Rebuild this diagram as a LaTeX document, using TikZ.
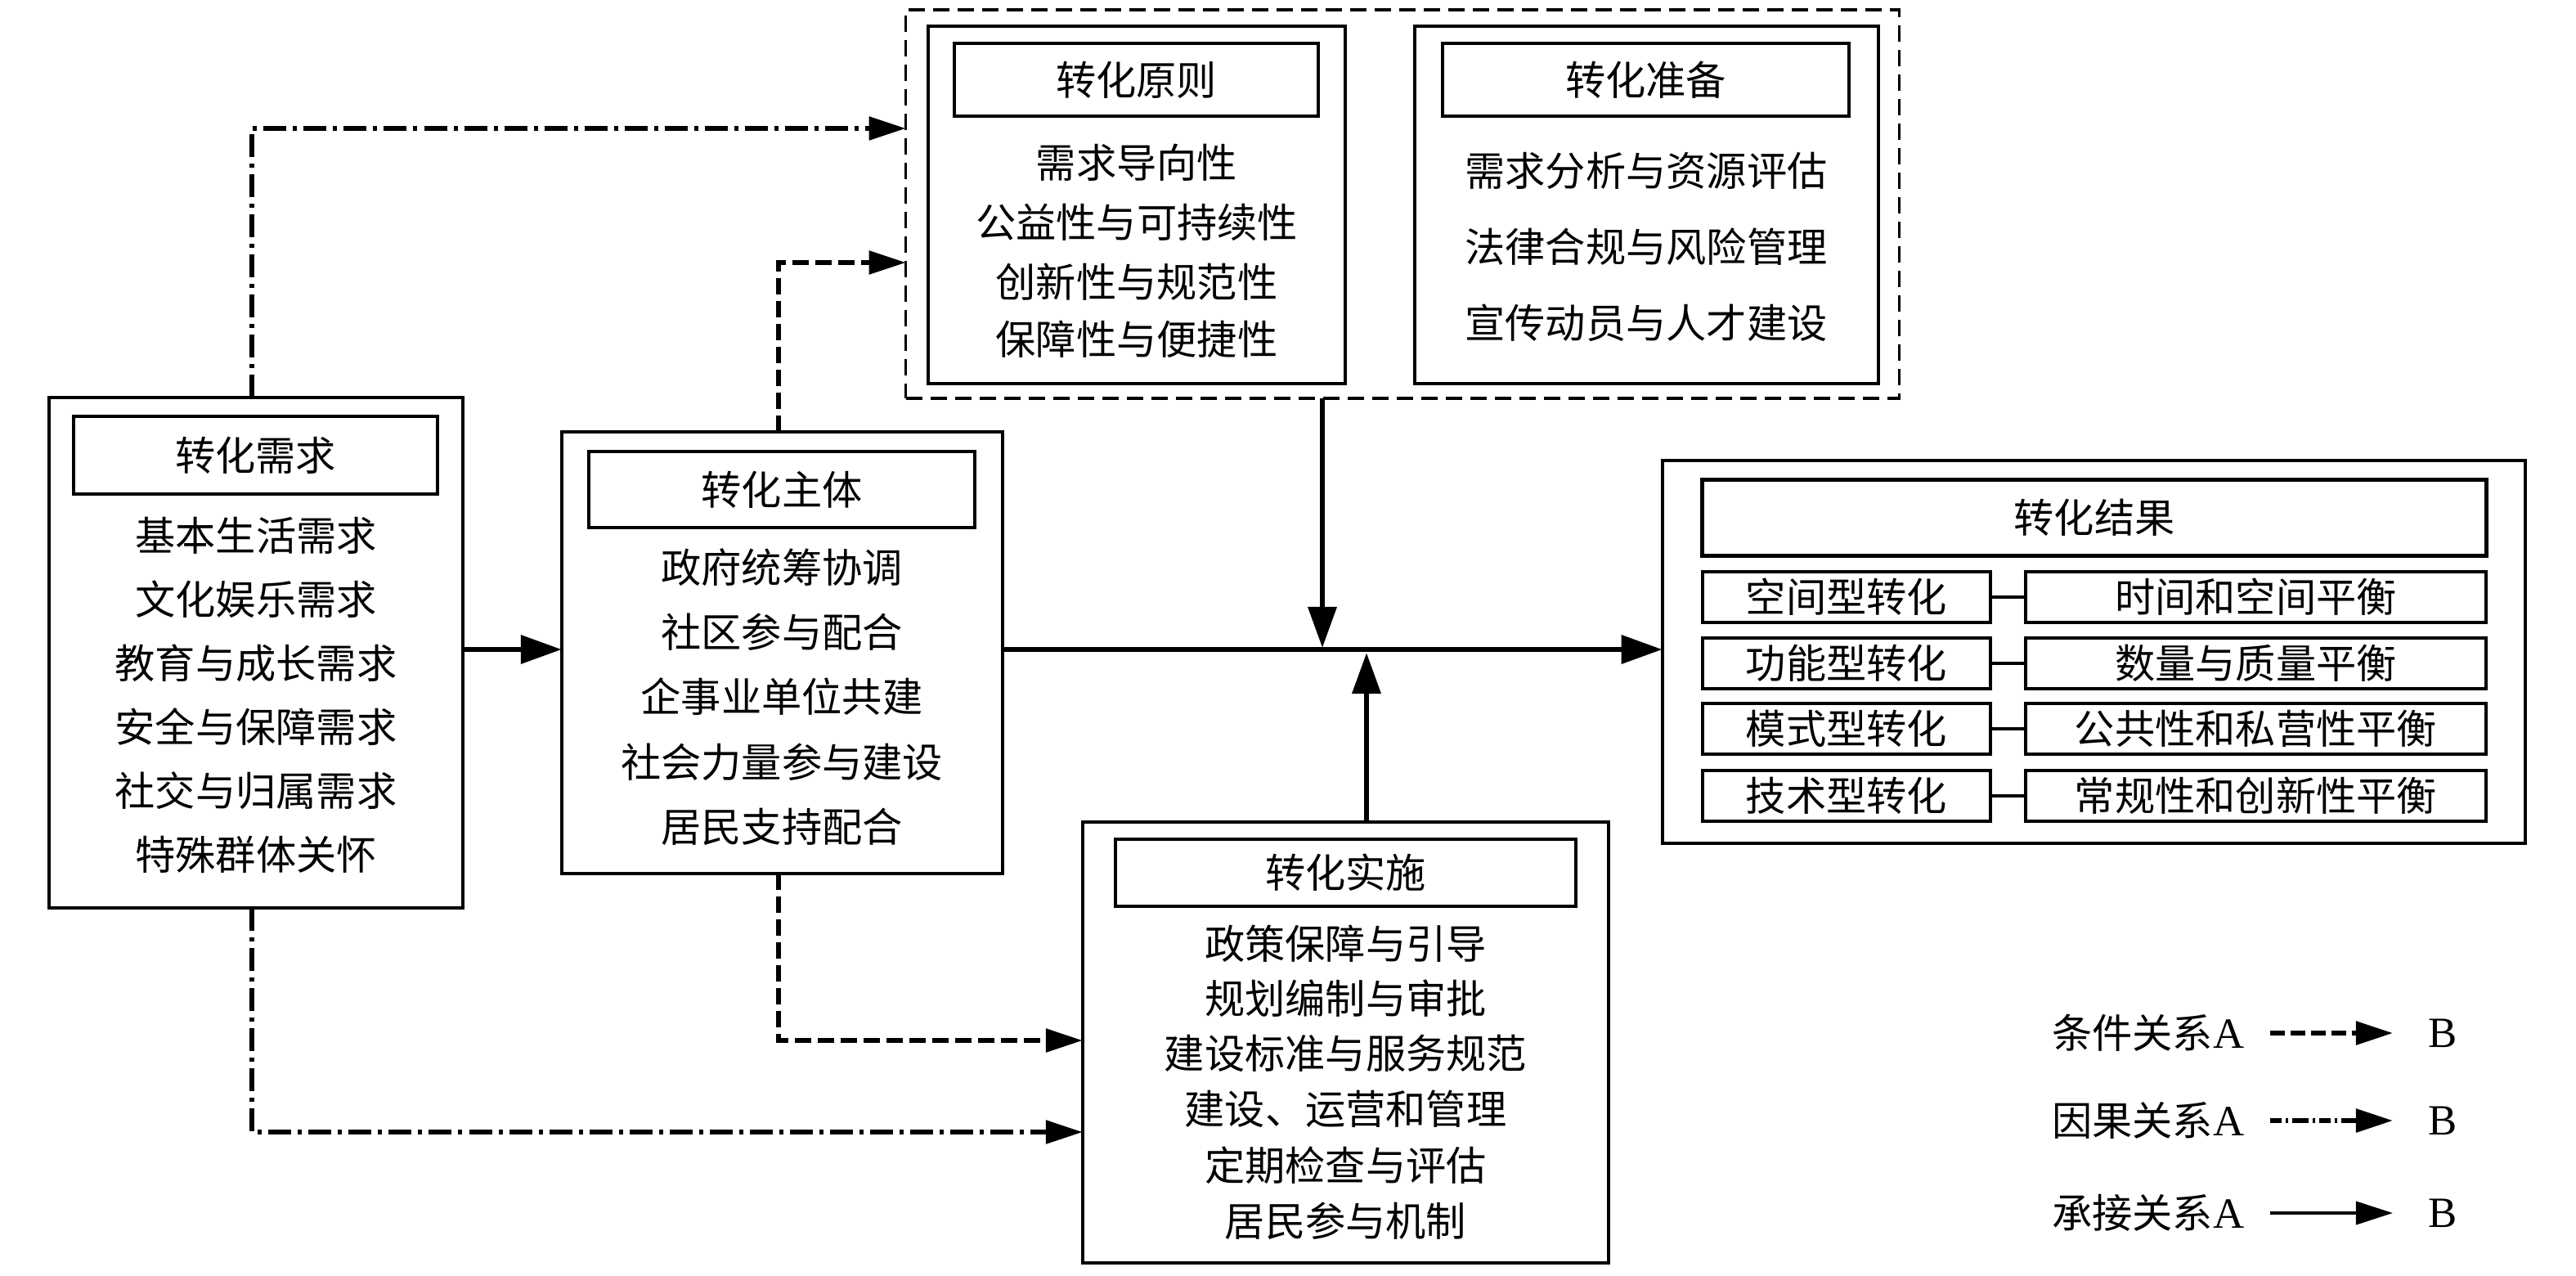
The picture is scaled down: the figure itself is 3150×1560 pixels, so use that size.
\documentclass[tikz,border=0pt]{standalone}
\usepackage{fontspec}
\setmainfont{Liberation Serif}
\newfontfamily\cjk{Noto Sans CJK SC}
\usetikzlibrary{arrows.meta}
\begin{document}
\begin{tikzpicture}[x=0.01cm,y=-0.01cm,
  box/.style={draw, line width=1.1pt, inner sep=0pt, outer sep=0pt},
  ttl/.style={draw, line width=1.3pt, inner sep=0pt, outer sep=0pt, font=\cjk\fontsize{14pt}{16pt}\selectfont},
  txt/.style={inner sep=0pt, font=\cjk\fontsize{14pt}{16pt}\selectfont},
  grpbox/.style={draw, line width=1pt, dash pattern=on 0.2cm off 0.1cm, inner sep=0pt, outer sep=0pt},
  seq/.style={line width=1.9pt, -{Triangle[length=0.5cm,width=0.34cm]}},
  cond/.style={line width=1.6pt, dash pattern=on 0.2cm off 0.08cm, -{Triangle[length=0.45cm,width=0.28cm]}},
  cause/.style={line width=1.6pt, dash pattern=on 0.28cm off 0.08cm on 0.05cm off 0.08cm, -{Triangle[length=0.45cm,width=0.28cm]}},
  lgseq/.style={line width=1.1pt, -{Triangle[length=0.45cm,width=0.28cm]}},
]
\useasboundingbox (0,0) rectangle (3150,1560);

% ---------- 转化需求 ----------
\node[box, minimum width=5.06cm, minimum height=6.24cm] (xq) at (313,798) {};
\node[ttl, minimum width=4.45cm, minimum height=0.95cm] (xqt) at (312.5,556.5) {转化需求};
\node[txt] (xq1) at (313,655) {基本生活需求};
\node[txt] (xq2) at (313,733) {文化娱乐需求};
\node[txt] (xq3) at (313,811) {教育与成长需求};
\node[txt] (xq4) at (313,889) {安全与保障需求};
\node[txt] (xq5) at (313,967) {社交与归属需求};
\node[txt] (xq6) at (313,1045) {特殊群体关怀};

% ---------- 转化主体 ----------
\node[box, minimum width=5.39cm, minimum height=5.40cm] (zt) at (956.5,798) {};
\node[ttl, minimum width=4.72cm, minimum height=0.93cm] (ztt) at (956,598.5) {转化主体};
\node[txt] (zt1) at (956,694) {政府统筹协调};
\node[txt] (zt2) at (956,773) {社区参与配合};
\node[txt] (zt3) at (956,852) {企事业单位共建};
\node[txt] (zt4) at (956,932) {社会力量参与建设};
\node[txt] (zt5) at (956,1011) {居民支持配合};

% ---------- 原则 + 准备 group ----------
\node[grpbox, minimum width=12.14cm, minimum height=4.75cm] (grp) at (1715,249.5) {};
\node[box, minimum width=5.10cm, minimum height=4.37cm] (yz) at (1390,250.5) {};
\node[ttl, minimum width=4.45cm, minimum height=0.89cm] (yzt) at (1389.5,97.5) {转化原则};
\node[txt] (yz1) at (1390,199) {需求导向性};
\node[txt] (yz2) at (1390,272) {公益性与可持续性};
\node[txt] (yz3) at (1390,345) {创新性与规范性};
\node[txt] (yz4) at (1390,415) {保障性与便捷性};

\node[box, minimum width=5.67cm, minimum height=4.37cm] (zb) at (2013.5,250.5) {};
\node[ttl, minimum width=4.97cm, minimum height=0.89cm] (zbt) at (2012.5,97.5) {转化准备};
\node[txt] (zb1) at (2013,209) {需求分析与资源评估};
\node[txt] (zb2) at (2013,302) {法律合规与风险管理};
\node[txt] (zb3) at (2013,395) {宣传动员与人才建设};

% ---------- 转化实施 ----------
\node[box, minimum width=6.43cm, minimum height=5.39cm] (ss) at (1645.5,1274.5) {};
\node[ttl, minimum width=5.63cm, minimum height=0.82cm] (sst) at (1645.5,1067) {转化实施};
\node[txt] (ss1) at (1645.5,1154) {政策保障与引导};
\node[txt] (ss2) at (1645.5,1221) {规划编制与审批};
\node[txt] (ss3) at (1645.5,1288) {建设标准与服务规范};
\node[txt] (ss4) at (1645.5,1356) {建设、运营和管理};
\node[txt] (ss5) at (1645.5,1425) {定期检查与评估};
\node[txt] (ss6) at (1645.5,1493) {居民参与机制};

% ---------- 转化结果 ----------
\node[box, minimum width=10.55cm, minimum height=4.68cm] (jg) at (2560.5,797) {};
\node[ttl, minimum width=9.58cm, minimum height=0.93cm] (jgt) at (2561,633) {转化结果};
\node[ttl, minimum width=3.52cm, minimum height=0.62cm] (r1l) at (2258,730) {空间型转化};
\node[ttl, minimum width=5.63cm, minimum height=0.62cm] (r1r) at (2758.5,730) {时间和空间平衡};
\node[ttl, minimum width=3.52cm, minimum height=0.62cm] (r2l) at (2258,811) {功能型转化};
\node[ttl, minimum width=5.63cm, minimum height=0.62cm] (r2r) at (2758.5,811) {数量与质量平衡};
\node[ttl, minimum width=3.52cm, minimum height=0.62cm] (r3l) at (2258,891) {模式型转化};
\node[ttl, minimum width=5.63cm, minimum height=0.62cm] (r3r) at (2758.5,891) {公共性和私营性平衡};
\node[ttl, minimum width=3.52cm, minimum height=0.62cm] (r4l) at (2258,973) {技术型转化};
\node[ttl, minimum width=5.63cm, minimum height=0.62cm] (r4r) at (2758.5,973) {常规性和创新性平衡};
\draw[line width=1.1pt] (r1l.east) -- (r1r.west);
\draw[line width=1.1pt] (r2l.east) -- (r2r.west);
\draw[line width=1.1pt] (r3l.east) -- (r3r.west);
\draw[line width=1.1pt] (r4l.east) -- (r4r.west);

% ---------- connectors ----------
\coordinate (ml) at (0,794);
\coordinate (j1) at (1617,792);
\coordinate (j2) at (1671,798);
\coordinate (c1) at (308,157);
\coordinate (c2) at (952,321);
\coordinate (c3) at (952,1272);
\coordinate (c4) at (308,1384);

\draw[seq] (xq.east |- ml) -- (zt.west |- ml);
\draw[seq] (zt.east |- ml) -- (jg.west |- ml);
\draw[seq] (grp.south -| j1) -- (j1);
\draw[seq] (ss.north -| j2) -- (j2);

\draw[cause] (xq.north -| c1) |- (grp.west |- c1);
\draw[cond] (zt.north -| c2) |- (grp.west |- c2);
\draw[cond] (zt.south -| c3) |- (ss.west |- c3);
\draw[cause] (xq.south -| c4) |- (ss.west |- c4);

% ---------- legend ----------
\node[txt, anchor=east] (lg1) at (2745,1263) {条件关系{\rmfamily\fontsize{15pt}{16pt}\selectfont A}};
\node[txt, anchor=east] (lg2) at (2745,1370) {因果关系{\rmfamily\fontsize{15pt}{16pt}\selectfont A}};
\node[txt, anchor=east] (lg3) at (2745,1483) {承接关系{\rmfamily\fontsize{15pt}{16pt}\selectfont A}};
\node[inner sep=0pt, font=\fontsize{15pt}{16pt}\selectfont] (lb1) at (2987,1263) {B};
\node[inner sep=0pt, font=\fontsize{15pt}{16pt}\selectfont] (lb2) at (2987,1370) {B};
\node[inner sep=0pt, font=\fontsize{15pt}{16pt}\selectfont] (lb3) at (2987,1483) {B};
\coordinate (a1s) at (2776,1263); \coordinate (a1e) at (2926,1263);
\coordinate (a2s) at (2776,1370); \coordinate (a2e) at (2926,1370);
\coordinate (a3s) at (2776,1483); \coordinate (a3e) at (2926,1483);
\draw[cond, dash pattern=on 0.18cm off 0.07cm] (a1s) -- (a1e);
\draw[cause, dash pattern=on 0.14cm off 0.05cm on 0.03cm off 0.05cm on 0.2cm off 0.05cm on 0.03cm off 0.05cm] (a2s) -- (a2e);
\draw[lgseq] (a3s) -- (a3e);
\end{tikzpicture}
\end{document}
